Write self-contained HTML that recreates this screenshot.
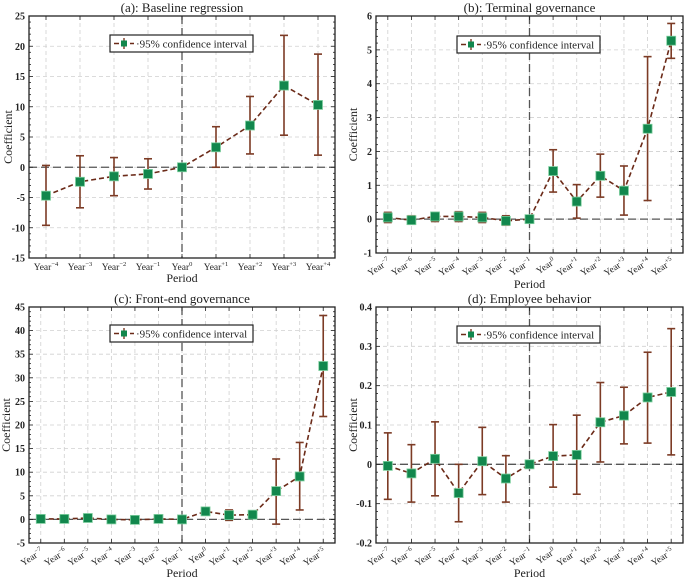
<!DOCTYPE html>
<html><head><meta charset="utf-8"><style>
html,body{margin:0;padding:0;background:#fff;}
svg{display:block;font-family:"Liberation Serif",serif;}
</style></head><body>
<svg id="chart" width="685" height="580" viewBox="0 0 685 580" xmlns="http://www.w3.org/2000/svg"></svg>
<script>
// ---------- data ----------
const catsA = ["-4","-3","-2","-1","0","+1","+2","+3","+4"];
const coefA = [-4.7,-2.4,-1.5,-1.1,0,3.3,6.9,13.5,10.3];
const loA = [-9.6,-6.7,-4.7,-3.6,0,0,2.2,5.3,2.0];
const hiA = [0.3,1.9,1.6,1.4,0,6.7,11.7,21.8,18.7];
const ticksA = [-15,-10,-5,0,5,10,15,20,25];

const cats13 = ["-7","-6","-5","-4","-3","-2","-1","0","+1","+2","+3","+4","+5"];
const coefB = [0.05,-0.03,0.08,0.08,0.05,-0.05,0,1.42,0.52,1.28,0.84,2.67,5.27];
const loB = [-0.1,-0.15,-0.07,-0.07,-0.1,-0.18,0,0.8,0.03,0.65,0.12,0.55,4.75];
const hiB = [0.2,0.1,0.2,0.22,0.2,0.1,0,2.05,1.02,1.92,1.57,4.8,5.78];
const ticksB = [-1,0,1,2,3,4,5,6];

const coefC = [0.1,0.1,0.3,0,-0.1,0.1,0,1.7,0.9,1.0,6.0,9.1,32.5];
const loC = [-0.5,-0.4,-0.2,-0.4,-0.4,-0.4,0,0.9,-0.2,0.2,-1.0,2.0,21.8];
const hiC = [0.6,0.5,0.7,0.3,0.2,0.5,0,2.5,2.0,1.8,12.8,16.3,43.2];
const ticksC = [-5,0,5,10,15,20,25,30,35,40,45];

const coefD = [-0.004,-0.023,0.014,-0.073,0.008,-0.036,0,0.021,0.024,0.107,0.124,0.17,0.184];
const loD = [-0.089,-0.096,-0.08,-0.146,-0.077,-0.096,0,-0.058,-0.076,0.006,0.052,0.054,0.024];
const hiD = [0.08,0.05,0.108,0,0.094,0.022,0,0.101,0.125,0.208,0.196,0.285,0.345];
const ticksD = [-0.2,-0.1,0,0.1,0.2,0.3,0.4];

const titles = ["(a):  Baseline regression","(b):  Terminal governance","(c):  Front-end governance","(d):  Employee behavior"];

const NS="http://www.w3.org/2000/svg";
const svg=document.getElementById('chart');
function mk(tag,attrs,parent){const e=document.createElementNS(NS,tag);for(const k in attrs)e.setAttribute(k,attrs[k]);(parent||svg).appendChild(e);return e;}

function panel(o){
  const g=mk('g',{});
  
  
  const L=o.x0,R=o.x1,T=o.y0,B=o.y1;
  const n=o.cats.length;
  const step=(R-L)/n;
  const xs=i=>L+step*(i+0.5);
  const ymin=o.ticks[0],ymax=o.ticks[o.ticks.length-1];
  const ys=v=>B-(v-ymin)/(ymax-ymin)*(B-T);
  for(let i=0;i<n;i++){const l=mk('line',{x1:xs(i),x2:xs(i),y1:T,y2:B,stroke:'#d0d0d0','stroke-width':0.8,'stroke-dasharray':'4,3'},g);
    }
  o.ticks.forEach(t=>{if(t===ymin||t===ymax)return;const l=mk('line',{x1:L,x2:R,y1:ys(t),y2:ys(t),stroke:'#d0d0d0','stroke-width':0.8,'stroke-dasharray':'4,3'},g);
    });
  const z=mk('line',{x1:L,x2:R,y1:ys(0),y2:ys(0),stroke:'#555','stroke-width':1.3,'stroke-dasharray':'8,4'},g);
  
  const v=mk('line',{x1:xs(o.evt),x2:xs(o.evt),y1:T,y2:B,stroke:'#555','stroke-width':1.3,'stroke-dasharray':'8,4'},g);
  
  const f=mk('rect',{x:L,y:T,width:R-L,height:B-T,fill:'none',stroke:'#222','stroke-width':1.3},g);
  
  const mstep=(o.ticks[1]-o.ticks[0])/5;
  for(let k=0;k<=(o.ticks.length-1)*5;k++){
    const val=ymin+k*mstep,y=ys(val),len=(k%5===0)?4:2;
    mk('line',{x1:L,x2:L+len,y1:y,y2:y,stroke:'#222','stroke-width':0.8},g);
    mk('line',{x1:R,x2:R-len,y1:y,y2:y,stroke:'#222','stroke-width':0.8},g);
  }
  o.ticks.forEach(t=>{
    const tx=mk('text',{x:L-4,y:ys(t)+3.5,'text-anchor':'end','font-size':10,'font-weight':'bold',fill:'#222'},g);
    tx.textContent=String(t);
    
  });
  for(let i=0;i<n;i++){
    mk('line',{x1:xs(i),x2:xs(i),y1:B,y2:B-4,stroke:'#222','stroke-width':0.8},g);
    mk('line',{x1:xs(i),x2:xs(i),y1:T,y2:T+4,stroke:'#222','stroke-width':0.8},g);
    let tx;
    if(o.rot){
      tx=mk('text',{x:xs(i)+3,y:B+10,'text-anchor':'end','font-size':9.5,fill:'#222',transform:`rotate(-33 ${xs(i)+3} ${B+10})`},g);
    } else {
      tx=mk('text',{x:xs(i),y:B+12,'text-anchor':'middle','font-size':9.5,fill:'#222'},g);
    }
    
    const a=mk('tspan',{},tx);a.textContent='Year';
    const s=mk('tspan',{'font-size':6.5,dy:-4},tx);s.textContent=o.cats[i].replace('-','\u2212');
  }
  const tt=mk('text',{x:(L+R)/2,y:T-4,'text-anchor':'middle','font-size':13,fill:'#222'},g);
  tt.textContent=o.title;
  const xl=mk('text',{x:(L+R)/2,y:o.xlY,'text-anchor':'middle','font-size':12,fill:'#222'},g);
  xl.textContent='Period';
  const yl=mk('text',{x:o.ylX,y:(T+B)/2,'text-anchor':'middle','font-size':12,fill:'#222',transform:`rotate(-90 ${o.ylX} ${(T+B)/2})`},g);
  yl.textContent='Coefficient';
  const pts=o.coef.map((c,i)=>xs(i)+','+ys(c)).join(' ');
  const pl=mk('polyline',{points:pts,fill:'none',stroke:'#6b2a18','stroke-width':1.6,'stroke-dasharray':'5,3'},g);
  
  for(let i=0;i<n;i++){
    if(o.lo[i]===o.hi[i])continue;
    const eg=mk('g',{stroke:'#7c3b25','stroke-width':1.6},g);
    
    mk('line',{x1:xs(i),x2:xs(i),y1:ys(o.lo[i]),y2:ys(o.hi[i])},eg);
    mk('line',{x1:xs(i)-4,x2:xs(i)+4,y1:ys(o.lo[i]),y2:ys(o.lo[i])},eg);
    mk('line',{x1:xs(i)-4,x2:xs(i)+4,y1:ys(o.hi[i]),y2:ys(o.hi[i])},eg);
  }
  for(let i=0;i<n;i++){
    const r=mk('rect',{x:xs(i)-4.5,y:ys(o.coef[i])-4.5,width:9,height:9,fill:'#12874d',stroke:'#7fcf9f','stroke-width':0.8},g);
    
  }
  const lg=mk('g',{},g);
  
  mk('rect',{x:o.lx,y:o.ly,width:143,height:17,fill:'#fff',stroke:'#222','stroke-width':1.2},lg);
  mk('line',{x1:o.lx+4,x2:o.lx+24,y1:o.ly+8.5,y2:o.ly+8.5,stroke:'#6b2a18','stroke-width':1.6,'stroke-dasharray':'5,3'},lg);
  mk('line',{x1:o.lx+14,x2:o.lx+14,y1:o.ly+3,y2:o.ly+14,stroke:'#7c3b25','stroke-width':1.4},lg);
  mk('rect',{x:o.lx+11,y:o.ly+5.5,width:6,height:6,fill:'#12874d'},lg);
  const lt=mk('text',{x:o.lx+26,y:o.ly+12.5,'font-size':11,fill:'#222'},lg);
  lt.textContent='\u00b795% confidence interval';
  
}

panel({name:'panel-a-baseline',x0:29,x1:335,y0:16,y1:258,cats:catsA,coef:coefA,lo:loA,hi:hiA,ticks:ticksA,evt:4,rot:false,title:titles[0],xlY:282,ylX:12,lx:110,ly:35});
panel({name:'panel-b-terminal',x0:376,x1:683,y0:16,y1:253,cats:cats13,coef:coefB,lo:loB,hi:hiB,ticks:ticksB,evt:6,rot:true,title:titles[1],xlY:288,ylX:357,lx:457,ly:36});
panel({name:'panel-c-front-end',x0:29,x1:335,y0:307,y1:543,cats:cats13,coef:coefC,lo:loC,hi:hiC,ticks:ticksC,evt:6,rot:true,title:titles[2],xlY:577,ylX:10,lx:110,ly:325});
panel({name:'panel-d-employee',x0:376,x1:683,y0:307,y1:543,cats:cats13,coef:coefD,lo:loD,hi:hiD,ticks:ticksD,evt:6,rot:true,title:titles[3],xlY:577,ylX:357,lx:457,ly:326});
</script>
</body></html>
